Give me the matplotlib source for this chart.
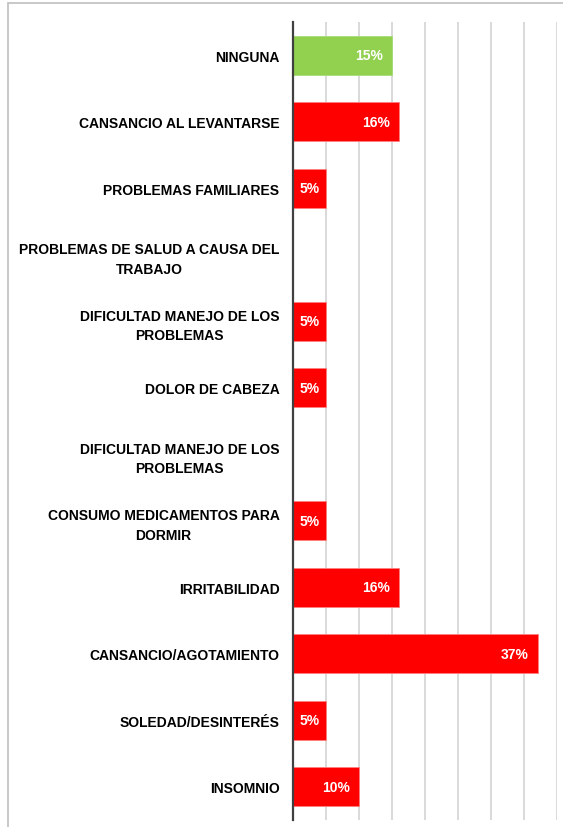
import matplotlib.pyplot as plt
from matplotlib.patches import Rectangle

plt.rcParams['font.family'] = ['Liberation Sans', 'DejaVu Sans']

categorias = ["NINGUNA", "CANSANCIO AL LEVANTARSE", "PROBLEMAS FAMILIARES",
              "PROBLEMAS DE SALUD A CAUSA DEL\nTRABAJO",
              "DIFICULTAD MANEJO DE LOS\nPROBLEMAS", "DOLOR DE CABEZA",
              "DIFICULTAD MANEJO DE LOS\nPROBLEMAS",
              "CONSUMO MEDICAMENTOS PARA\nDORMIR", "IRRITABILIDAD",
              "CANSANCIO/AGOTAMIENTO", "SOLEDAD/DESINTERÉS", "INSOMNIO"]
porcentajes = [15, 16, 5, 0, 5, 5, 0, 5, 16, 37, 5, 10]
colores = ["#92D050"] + ["#FF0000"] * 11
bordes = ["#A8DA78"] + ["#FF8080"] * 11

fig = plt.figure(figsize=(5.63, 8.28), dpi=100)
ax = fig.add_axes([292.6 / 563, 7 / 828, 264.8 / 563, 798 / 828])

# marco gris alrededor del grafico
fig.patches.append(Rectangle((8 / 563, -0.05), 1.2, 1 - 4 / 828 + 0.05,
                             transform=fig.transFigure, fill=False,
                             edgecolor="#BFBFBF", linewidth=1.2))

y = list(range(len(categorias)))
ax.barh(y, porcentajes, height=0.58, color=colores,
        edgecolor=bordes, linewidth=0.6, zorder=3)
for i, v in enumerate(porcentajes):
    if v == 0:
        continue
    if v <= 5:
        ax.text(v / 2, i, "{}%".format(v), ha="center", va="center",
                color="white", fontsize=10, fontweight="bold", zorder=4)
    else:
        ax.text(v - 1.3, i, "{}%".format(v), ha="right", va="center",
                color="white", fontsize=10, fontweight="bold", zorder=4)

ax.set_xlim(0, 40)
ax.set_ylim(len(categorias) - 0.5, -0.5)
ax.set_xticks(range(0, 41, 5))
ax.set_xticklabels([])
ax.tick_params(axis="x", length=0)
ax.grid(axis="x", color="#D0D0D0", linewidth=1.1, zorder=0)
ax.set_yticks(y)
ax.set_yticklabels(categorias, fontsize=10, fontweight="bold",
                   multialignment="center", linespacing=1.5)
ax.tick_params(axis="y", length=0, pad=9.5)
for s in ["top", "right", "bottom"]:
    ax.spines[s].set_visible(False)
ax.spines["left"].set_color("#404040")
ax.spines["left"].set_linewidth(1.6)
ax.spines["left"].set_zorder(5)

fig.savefig("out.png", dpi=100)
